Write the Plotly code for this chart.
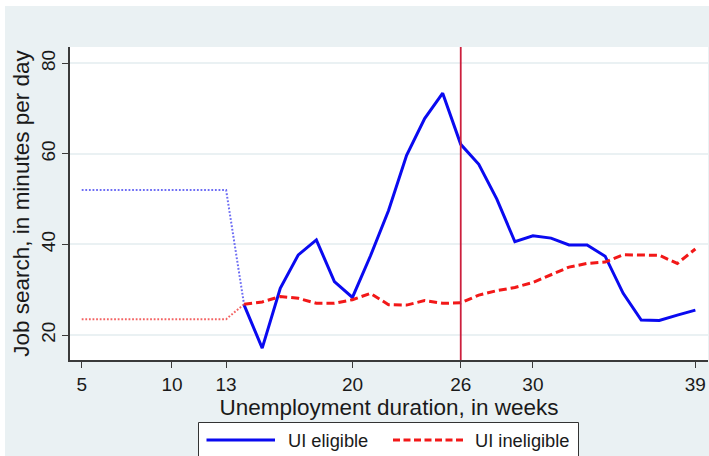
import plotly.graph_objects as go

# Weekly job search (minutes per day) by unemployment duration
weeks = [14, 15, 16, 17, 18, 19, 20, 21, 22, 23, 24, 25, 26,
         27, 28, 29, 30, 31, 32, 33, 34, 35, 36, 37, 38, 39]
ui_eligible = [26.6, 17.1, 30.3, 37.7, 41.0, 31.8, 28.3, 37.5, 47.5, 59.7,
               67.8, 73.4, 62.1, 57.7, 50.0, 40.6, 41.9, 41.4, 39.9, 39.9,
               37.4, 29.2, 23.3, 23.2, 24.4, 25.5]
ui_ineligible = [26.8, 27.3, 28.5, 28.1, 27.0, 27.0, 27.8, 29.2, 26.7, 26.6,
                 27.6, 27.0, 27.1, 28.8, 29.8, 30.5, 31.6, 33.3, 35.0, 35.8,
                 36.1, 37.7, 37.7, 37.6, 35.8, 39.0]

# Pre-period averages (weeks 5-13)
pre_weeks = [5, 13]
pre_eligible = 52.0
pre_ineligible = 23.5

benefit_exhaustion_week = 26

x_ticks = [5, 10, 13, 20, 26, 30, 39]
y_ticks = [20, 40, 60, 80]

series_names = ["UI eligible", "UI ineligible"]

BLUE = "#0A0AF0"
RED = "#F21818"
BG = "#EAF1F3"
FONT = "Liberation Sans, Arial, Helvetica, sans-serif"
RED_DASH = "8px,4px"

fig = go.Figure()

# dotted connectors for the pre-period
fig.add_trace(go.Scatter(
    x=pre_weeks + [weeks[0]], y=[pre_eligible, pre_eligible, ui_eligible[0]],
    mode="lines", line=dict(color="rgba(60,60,240,0.75)", width=2, dash="1.8px,1.8px"),
    showlegend=False, hoverinfo="skip"))
fig.add_trace(go.Scatter(
    x=pre_weeks + [weeks[0]], y=[pre_ineligible, pre_ineligible, ui_ineligible[0]],
    mode="lines", line=dict(color="rgba(240,60,60,0.8)", width=2, dash="1.8px,1.8px"),
    showlegend=False, hoverinfo="skip"))

fig.add_trace(go.Scatter(
    x=weeks, y=ui_eligible, mode="lines", name=series_names[0],
    line=dict(color=BLUE, width=3), showlegend=False))
fig.add_trace(go.Scatter(
    x=weeks, y=ui_ineligible, mode="lines", name=series_names[1],
    line=dict(color=RED, width=3, dash=RED_DASH), showlegend=False))

# benefit exhaustion marker
fig.add_shape(type="line", xref="x", yref="paper",
              x0=benefit_exhaustion_week, x1=benefit_exhaustion_week, y0=0, y1=1,
              line=dict(color="#CC1F3D", width=1.8), layer="above")

# pixel -> paper helpers
L, R, T, B = 70, 1, 47, 96
W, H = 709, 456
pw, ph = W - L - R, H - T - B
def px(xp):
    return (xp - L) / pw
def py(yp):
    return (H - B - yp) / ph

# white page edge along top and left
fig.add_shape(type="rect", xref="paper", yref="paper",
              x0=px(0), x1=px(W), y0=py(6), y1=py(0),
              fillcolor="white", line=dict(width=0), layer="below")
fig.add_shape(type="rect", xref="paper", yref="paper",
              x0=px(0), x1=px(5), y0=py(H), y1=py(0),
              fillcolor="white", line=dict(width=0), layer="below")

# legend box below the axis
fig.add_shape(type="rect", xref="paper", yref="paper",
              x0=px(198.5), x1=px(578.5), y0=py(470), y1=py(422.5),
              fillcolor="white", line=dict(color="#333333", width=1), layer="below")
leg_y = py(440)
fig.add_shape(type="line", xref="paper", yref="paper",
              x0=px(206.5), x1=px(275), y0=leg_y, y1=leg_y,
              line=dict(color=BLUE, width=3))
fig.add_shape(type="line", xref="paper", yref="paper",
              x0=px(393), x1=px(463), y0=leg_y, y1=leg_y,
              line=dict(color=RED, width=3, dash="7px,3.5px"))
for name, xl in zip(series_names, [285.5, 472.5]):
    fig.add_annotation(xref="paper", yref="paper", x=px(xl), y=leg_y,
                       xanchor="left", yanchor="middle", text=name, showarrow=False,
                       font=dict(size=18.3, color="#1a1a1a"))

fig.update_layout(
    width=W, height=H,
    margin=dict(l=L, r=R, t=T, b=B),
    paper_bgcolor=BG, plot_bgcolor="white",
    font=dict(family=FONT, color="#1a1a1a", size=19),
    showlegend=False,
    xaxis=dict(range=[4.35, 39.7], tickvals=x_ticks, showgrid=False, zeroline=False,
               showline=True, linecolor="#3a3a3a", linewidth=1.5,
               ticks="outside", ticklen=6, tickwidth=1.2, tickcolor="#3a3a3a",
               tickfont=dict(size=19),
               title=dict(text="Unemployment duration, in weeks", font=dict(size=22.5), standoff=4)),
    yaxis=dict(range=[14.48, 83.6], tickvals=y_ticks, showgrid=True, gridcolor=BG, gridwidth=1.5,
               zeroline=False, showline=True, linecolor="#3a3a3a", linewidth=1.5,
               ticks="outside", ticklen=6, tickwidth=1.2, tickcolor="#3a3a3a",
               tickangle=-90, tickfont=dict(size=19),
               title=dict(text="Job search, in minutes per day", font=dict(size=22.5), standoff=2)),
)

fig.write_html("out.html")
